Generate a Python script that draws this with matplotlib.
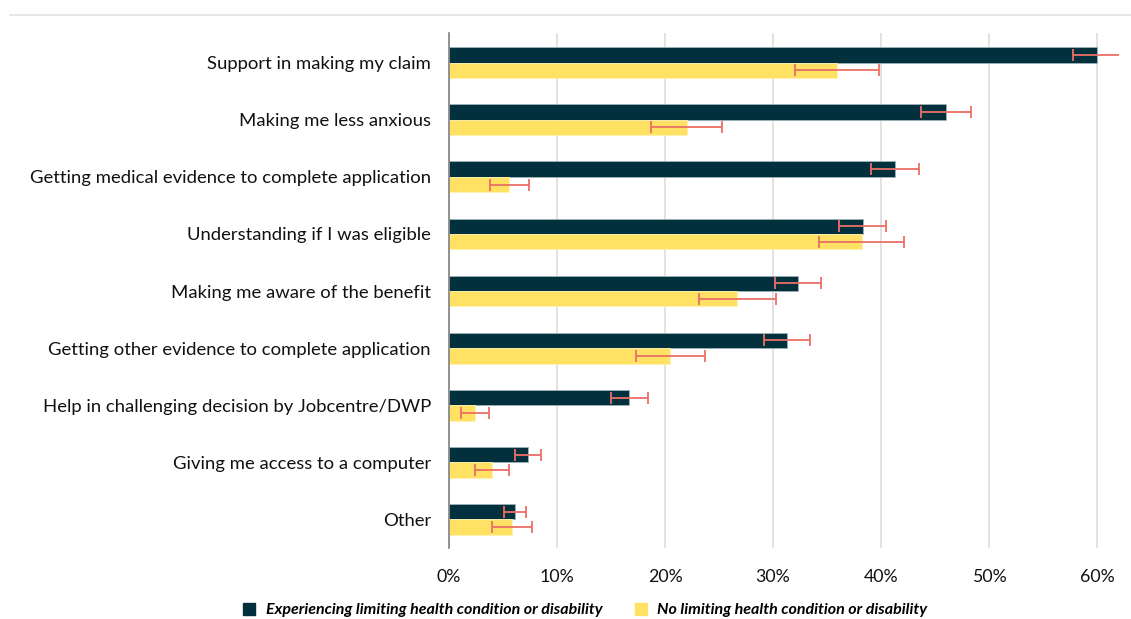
import matplotlib.pyplot as plt
import numpy as np
from matplotlib.lines import Line2D

plt.rcParams['font.family'] = ['Lato', 'DejaVu Sans']

categories = [
    "Support in making my claim",
    "Making me less anxious",
    "Getting medical evidence to complete application",
    "Understanding if I was eligible",
    "Making me aware of the benefit",
    "Getting other evidence to complete application",
    "Help in challenging decision by Jobcentre/DWP",
    "Giving me access to a computer",
    "Other",
]
limiting = [60.0, 46.0, 41.3, 38.3, 32.3, 31.3, 16.7, 7.3, 6.1]
limiting_err = [2.2, 2.3, 2.2, 2.2, 2.15, 2.1, 1.7, 1.2, 1.0]
no_limiting = [35.9, 22.0, 5.6, 38.2, 26.7, 20.5, 2.4, 4.0, 5.8]
no_limiting_err = [3.9, 3.3, 1.85, 3.9, 3.55, 3.2, 1.3, 1.55, 1.85]
legend_labels = ["Experiencing limiting health condition or disability",
                 "No limiting health condition or disability"]

dark = "#02303C"
yellow = "#FFE164"
err_col = "#EC6F66"

fig = plt.figure(figsize=(11.31, 6.19), dpi=100)
ax = fig.add_axes([0.397, 0.1147, 0.592, 0.832])

y = np.arange(len(categories))
h = 0.27
ekw = dict(ecolor=err_col, elinewidth=1.3, capsize=4, capthick=1.3)
ax.barh(y - h / 2, np.array(limiting) / 100, height=h, color=dark,
        edgecolor="#9fb2b9", linewidth=0.6, xerr=np.array(limiting_err) / 100,
        error_kw=ekw, zorder=3)
ax.barh(y + h / 2, np.array(no_limiting) / 100, height=h, color=yellow,
        edgecolor="#fff2b0", linewidth=0.6, xerr=np.array(no_limiting_err) / 100,
        error_kw=ekw, zorder=3)

ax.set_ylim(8.5, -0.52)
ax.set_xlim(0, 0.62)
ax.set_xticks(np.arange(0, 0.61, 0.1))
ax.set_xticklabels([f"{int(round(v * 100))}%" for v in np.arange(0, 0.61, 0.1)],
                   fontsize=12.8, color="#111111")
ax.set_yticks(y)
ax.set_yticklabels(categories, fontsize=13.3, color="#111111")
ax.tick_params(axis="y", length=0, pad=13)
ax.tick_params(axis="x", length=0, pad=15)
ax.grid(axis="x", color="#dddddd", linewidth=1.2, zorder=0)
for s in ["top", "right", "bottom"]:
    ax.spines[s].set_visible(False)
ax.spines["left"].set_color("#808080")
ax.spines["left"].set_linewidth(1.2)
ax.spines["left"].set_zorder(4)

# thin rule along the top of the figure
fig.add_artist(Line2D([0.009, 1.0], [0.976, 0.976], color="#e3e3e3", linewidth=1.2))

handles = [Line2D([], [], marker="s", linestyle="", color=dark, markersize=8),
           Line2D([], [], marker="s", linestyle="", color=yellow, markersize=8)]
fig.legend(handles, legend_labels, loc="center", bbox_to_anchor=(0.513, 0.014),
           ncol=2, frameon=False, handletextpad=0.05, columnspacing=1.4,
           prop=dict(family=['Lato', 'DejaVu Sans'], style="italic", weight="bold", size=11.5))

fig.savefig("out.png", dpi=100)
